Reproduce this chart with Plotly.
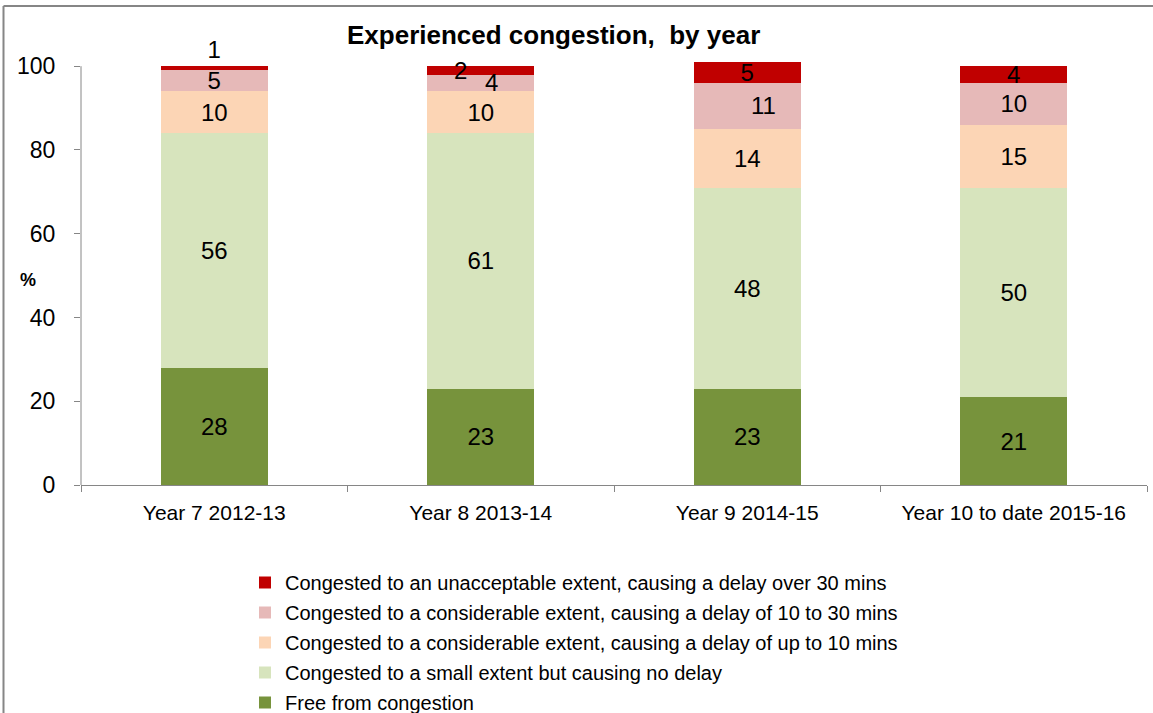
import plotly.graph_objects as go

categories = ["Year 7 2012-13", "Year 8 2013-14", "Year 9 2014-15", "Year 10 to date 2015-16"]
free = [28, 23, 23, 21]
small_no_delay = [56, 61, 48, 50]
upto_10 = [10, 10, 14, 15]
from_10_to_30 = [5, 4, 11, 10]
over_30 = [1, 2, 5, 4]

series = [
    ("Free from congestion", free, "#77933C"),
    ("Congested to a small extent but causing no delay", small_no_delay, "#D7E4BD"),
    ("Congested to a considerable extent, causing a delay of up to 10 mins", upto_10, "#FCD5B5"),
    ("Congested to a considerable extent, causing a delay of 10 to 30 mins", from_10_to_30, "#E6B9B8"),
    ("Congested to an unacceptable extent, causing a delay over 30 mins", over_30, "#C00000"),
]

FONT = "Liberation Sans, Arial, sans-serif"
GRAY = "#868686"

# labels shifted sideways (pixels) in the source chart, keyed by (series index, category index)
label_shift = {(3, 1): 11, (3, 2): 16, (4, 1): -20}

fig = go.Figure()
n = len(series)
base = [0] * len(categories)
label_annotations = []
for i, (name, vals, color) in enumerate(series):
    labels = []
    for j, v in enumerate(vals):
        if (i, j) in label_shift:
            labels.append("")
            label_annotations.append(dict(
                x=categories[j], y=base[j] + v / 2, xref="x", yref="y",
                text=str(v), showarrow=False, xanchor="center", yanchor="middle",
                xshift=label_shift[(i, j)],
                font=dict(family=FONT, size=24, color="black")))
        else:
            labels.append(str(v))
    tpos = "inside"
    if i == n - 1:
        tpos = ["outside" if v <= 1 else "inside" for v in vals]
    fig.add_trace(go.Bar(
        x=categories, y=vals, name=name, legendgroup=f"g{i}", legendrank=n - i,
        marker=dict(color=color, line=dict(width=0)),
        text=labels, textposition=tpos,
        insidetextanchor="middle", textangle=0,
        textfont=dict(family=FONT, size=24, color="black"),
        cliponaxis=False, hoverinfo="x+y+name",
    ))
    base = [b + v for b, v in zip(base, vals)]

W, H = 1153, 713
L, R, T, B = 81, 6, 62, 228
pw = W - L - R
ph = H - T - B
YMAX = 101
y100 = 1 - (YMAX - 100) / YMAX  # paper y of the 100 line

fig.update_layout(
    width=W, height=H,
    barmode="stack", bargap=0.6,
    plot_bgcolor="white", paper_bgcolor="white",
    margin=dict(l=L, r=R, t=T, b=B, autoexpand=False),
    uniformtext=dict(mode="show", minsize=24),
    font=dict(family=FONT, color="black"),
    showlegend=True,
    legend=dict(
        x=(245 - L) / pw, xanchor="left",
        y=(H - B - 563) / ph, yanchor="top",
        traceorder="grouped", tracegroupgap=1,
        font=dict(family=FONT, size=20, color="black"),
        bgcolor="rgba(0,0,0,0)",
    ),
    xaxis=dict(
        showline=True, linecolor=GRAY, linewidth=1,
        ticks="outside", tickson="boundaries", ticklen=6, tickcolor=GRAY,
        tickfont=dict(family=FONT, size=21, color="black"),
        ticklabelstandoff=9,
        showgrid=False, zeroline=False,
    ),
    yaxis=dict(
        range=[0, YMAX], tickvals=[0, 20, 40, 60, 80, 100],
        showline=False,
        ticks="outside", ticklen=6, tickcolor=GRAY,
        tickfont=dict(family=FONT, size=23, color="black"),
        ticklabelstandoff=14,
        showgrid=False, zeroline=False,
    ),
    annotations=label_annotations + [
        dict(text="<b>Experienced congestion,  by year</b>", xref="paper", yref="paper",
             x=(553 - L) / pw, y=1 + (T - 35) / ph, xanchor="center", yanchor="middle",
             showarrow=False, font=dict(family=FONT, size=26, color="black")),
        dict(text="<b>%</b>", xref="paper", yref="paper",
             x=(28 - L) / pw, y=(H - B - 280) / ph, xanchor="center", yanchor="middle",
             showarrow=False, font=dict(family=FONT, size=18, color="black")),
    ],
    shapes=[
        dict(type="line", xref="paper", yref="paper", x0=0, x1=0, y0=0, y1=y100,
             line=dict(color=GRAY, width=1)),
        dict(type="line", xref="paper", yref="paper",
             x0=(3.5 - L) / pw, x1=(3.5 - L) / pw, y0=-0.6, y1=1 + (T - 6) / ph,
             line=dict(color=GRAY, width=2)),
        dict(type="line", xref="paper", yref="paper",
             x0=(3.5 - L) / pw, x1=1.1, y0=1 + (T - 6) / ph, y1=1 + (T - 6) / ph,
             line=dict(color=GRAY, width=2)),
    ],
)

fig.write_html("out.html", config={"displayModeBar": False},
               post_script="document.body.style.margin='0';document.body.style.overflow='hidden';")
